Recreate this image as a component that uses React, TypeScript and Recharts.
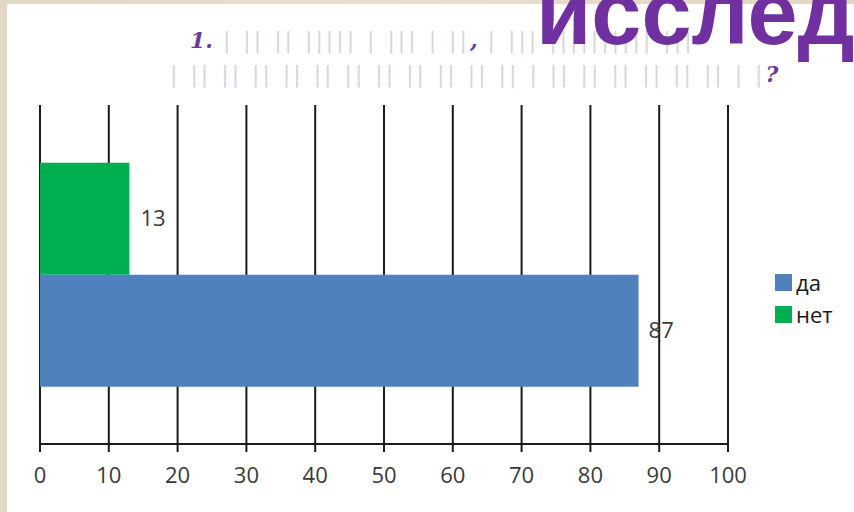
import { BarChart, Bar, XAxis, YAxis, CartesianGrid, LabelList } from 'recharts'

const categories = ['1']
const seriesNames = ['да', 'нет']
const daValues = [87]
const netValues = [13]
const xTicks = [0, 10, 20, 30, 40, 50, 60, 70, 80, 90, 100]

const colors: Record<string, string> = { да: '#4f81bd', нет: '#00b050' }

const data = categories.map((c, i) => ({ name: c, да: daValues[i], нет: netValues[i] }))

const font = '"Open Sans", "Noto Sans", sans-serif'

function LegendBox() {
  return (
    <div style={{ position: 'absolute', left: 775, top: 266, fontFamily: font, fontSize: 22, color: '#1a1a1a' }}>
      {seriesNames.map((s) => (
        <div key={s} style={{ display: 'flex', alignItems: 'center', height: 32 }}>
          <span style={{ width: 17, height: 17, background: colors[s], marginRight: 4 }} />
          <span style={{ lineHeight: '22px' }}>{s}</span>
        </div>
      ))}
    </div>
  )
}

export default function App() {
  return (
    <div
      style={{
        position: 'fixed',
        left: 0,
        top: 0,
        width: 854,
        height: 512,
        overflow: 'hidden',
        background: 'linear-gradient(90deg, #e2d8c6, #e8dfcf 50%, #e0d6c3)',
      }}
    >
      <div style={{ position: 'absolute', left: 7, top: 4, right: 0, bottom: 0, background: '#fff' }} />

      {/* question heading */}
      <div
        style={{
          position: 'absolute',
          left: 190,
          top: 27,
          fontFamily: '"DejaVu Serif", serif',
          fontSize: 22,
          whiteSpace: 'nowrap',
          color: '#d6d3dc',
        }}
      >
        <span style={{ color: '#6a3d9a', fontStyle: 'italic', fontWeight: 700 }}>1.</span>
        <span style={{ letterSpacing: 3 }}> | || || ||||| | ||| | ||</span>
        <span style={{ color: '#6a3d9a', fontStyle: 'italic', fontWeight: 700 }}>,</span>
        <span style={{ letterSpacing: 3 }}> | ||| |||||||||| |||</span>
      </div>
      <div
        style={{
          position: 'absolute',
          left: 170,
          top: 61,
          fontFamily: '"DejaVu Serif", serif',
          fontSize: 22,
          whiteSpace: 'nowrap',
          color: '#d6d3dc',
        }}
      >
        <span style={{ letterSpacing: 3 }}>| || || || || || || || || || || || | || || || || || || | |</span>
        <span style={{ color: '#6a3d9a', fontStyle: 'italic', fontWeight: 700 }}>?</span>
      </div>

      <div style={{ position: 'absolute', left: 0, top: 0 }}>
        <BarChart
          width={854}
          height={512}
          layout="vertical"
          data={data}
          margin={{ top: 105, right: 126, bottom: 28, left: 40 }}
          barCategoryGap="17%"
          barGap={0}
        >
          <CartesianGrid horizontal={false} stroke="#1a1a1a" strokeWidth={2} />
          <XAxis
            type="number"
            domain={[0, 100]}
            ticks={xTicks}
            interval={0}
            height={40}
            axisLine={{ stroke: '#1a1a1a', strokeWidth: 2 }}
            tickLine={{ stroke: '#1a1a1a', strokeWidth: 2 }}
            tickSize={8}
            tickMargin={15}
            tick={{ fontFamily: font, fontSize: 22, fill: '#3a3a3a' }}
          />
          <YAxis type="category" dataKey="name" hide />
          <Bar dataKey="нет" fill={colors['нет']} isAnimationActive={false}>
            <LabelList
              dataKey="нет"
              position="right"
              offset={11}
              style={{ fontFamily: font, fontSize: 22, fill: '#3a3a3a' }}
            />
          </Bar>
          <Bar dataKey="да" fill={colors['да']} isAnimationActive={false}>
            <LabelList
              dataKey="да"
              position="right"
              offset={10}
              style={{ fontFamily: font, fontSize: 22, fill: '#3a3a3a' }}
            />
          </Bar>
        </BarChart>
      </div>

      <LegendBox />

      {/* slide heading running off the top edge */}
      <div
        style={{
          position: 'absolute',
          left: 536,
          top: -37,
          fontFamily: '"Liberation Sans", Arial, sans-serif',
          fontWeight: 700,
          fontSize: 90,
          lineHeight: '100px',
          color: '#7030a0',
          whiteSpace: 'nowrap',
        }}
      >
        исследования
      </div>
    </div>
  )
}
